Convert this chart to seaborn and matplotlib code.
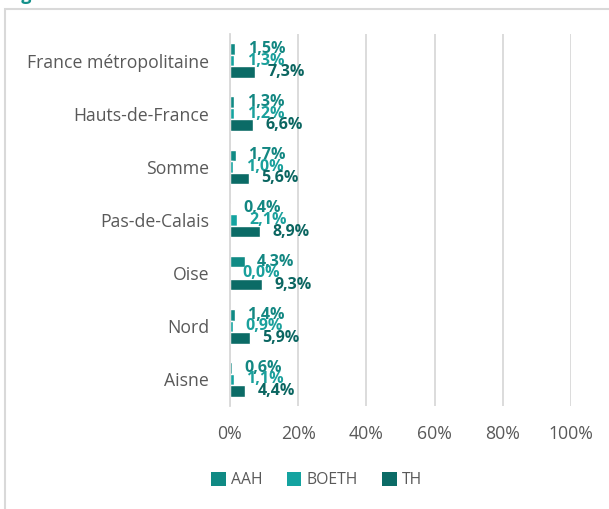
import matplotlib
matplotlib.use("Agg")
import matplotlib.pyplot as plt
from matplotlib.patches import Rectangle, Patch
import seaborn as sns
import pandas as pd

categories = ["France métropolitaine", "Hauts-de-France", "Somme",
              "Pas-de-Calais", "Oise", "Nord", "Aisne"]
series = ["AAH", "BOETH", "TH"]
aah = [1.5, 1.3, 1.7, 0.4, 4.3, 1.4, 0.6]
boeth = [1.3, 1.2, 1.0, 2.1, 0.0, 0.9, 1.1]
th = [7.3, 6.6, 5.6, 8.9, 9.3, 5.9, 4.4]
x_ticks = [0, 20, 40, 60, 80, 100]

colors = {"AAH": "#108A84", "BOETH": "#14A3A0", "TH": "#0B6B66"}
label_colors = {"AAH": "#138782", "BOETH": "#1AA09C", "TH": "#0B6661"}
text_gray = "#595959"
grid_gray = "#D9D9D9"

rows = []
for name, vals in zip(series, [aah, boeth, th]):
    for cat, v in zip(categories, vals):
        rows.append({"Territoire": cat, "Série": name, "Valeur": v})
df = pd.DataFrame(rows)

sns.set_theme(style="white")
plt.rcParams["font.family"] = ["Open Sans", "DejaVu Sans"]

fig = plt.figure(figsize=(6.09, 5.09), dpi=100)
ax = fig.add_axes([230 / 609, 1 - 406 / 509, 341 / 609, 372 / 509])

sns.barplot(data=df, x="Valeur", y="Territoire", hue="Série",
            order=categories, hue_order=series, palette=colors,
            orient="h", width=0.65, saturation=1, ax=ax, legend=False)

for cont, name, vals in zip(ax.containers, series, [aah, boeth, th]):
    labels = [f"{v:.1f}".replace(".", ",") + "%" for v in vals]
    ax.bar_label(cont, labels=labels, padding=9, color=label_colors[name],
                 fontsize=11.5, fontweight="bold")

ax.set_xlim(0, 100)
ax.set_xticks(x_ticks)
ax.set_xticklabels([f"{t}%" for t in x_ticks])
ax.set_xlabel("")
ax.set_ylabel("")
ax.tick_params(axis="both", length=0, labelsize=12.7, colors=text_gray)
ax.tick_params(axis="y", pad=15)
ax.tick_params(axis="x", pad=14)
ax.xaxis.grid(True, color=grid_gray, linewidth=1.3)
ax.set_axisbelow(True)
for s in ["top", "right", "bottom"]:
    ax.spines[s].set_visible(False)
ax.spines["left"].set_color(grid_gray)
ax.spines["left"].set_linewidth(1.3)

handles = [Patch(facecolor=colors[s], edgecolor="none", label=s) for s in series]
leg = fig.legend(handles=handles, loc="center", bbox_to_anchor=(0.52, 1 - 480 / 509),
                 ncol=3, frameon=False, fontsize=11.3, handlelength=0.95,
                 handleheight=1.0, handletextpad=0.35, columnspacing=1.5)
for t in leg.get_texts():
    t.set_color(text_gray)

# outer chart frame
fig.patches.append(Rectangle((5 / 609, -0.1), 1.2, 1.1 - 9 / 509,
                             transform=fig.transFigure, fill=False,
                             edgecolor=grid_gray, linewidth=1.5))
fig.text(6 / 609, 1 - 4 / 509, "Figure", color="#12908A", fontsize=13,
         fontweight="bold", va="bottom", ha="left")

fig.savefig("out.png", dpi=100)
